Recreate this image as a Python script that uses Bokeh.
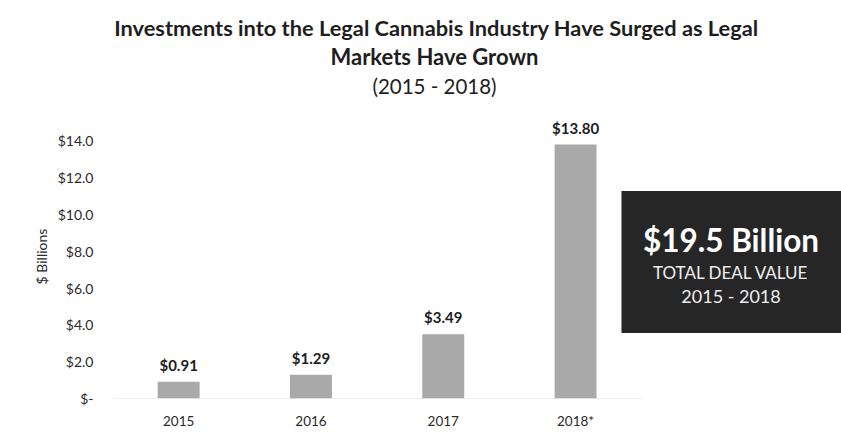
from bokeh.plotting import figure
from bokeh.layouts import column
from bokeh.models import (ColumnDataSource, LabelSet, Label, BoxAnnotation,
                          FixedTicker, PrintfTickFormatter, Range1d)
from bokeh.core.properties import value
from bokeh.embed import file_html
from bokeh.resources import INLINE

years = ["2015", "2016", "2017", "2018*"]
values = [0.91, 1.29, 3.49, 13.80]
value_labels = ["$0.91", "$1.29", "$3.49", "$13.80"]
y_ticks = [0, 2, 4, 6, 8, 10, 12, 14]
title_lines = ["Investments into the Legal Cannabis Industry Have Surged as Legal",
               "Markets Have Grown", "(2015 - 2018)"]
box_lines = ["$19.5 Billion", "TOTAL DEAL VALUE", "2015 - 2018"]

FONT = "Lato"
TXT = "#1e1e1e"

# ---------- title block (page pixel coordinates) ----------
t = figure(frame_width=729, frame_height=114, output_backend="svg", toolbar_location=None,
           x_range=Range1d(112, 841), y_range=Range1d(114, 0),
           x_axis_location=None, y_axis_location=None,
           min_border_left=112, min_border_right=0, min_border_top=0, min_border_bottom=0)
t.outline_line_color = None
t.grid.visible = False
t.add_layout(Label(x=436, y=27, text=title_lines[0], text_align="center", text_baseline="alphabetic",
                   text_font=FONT, text_font_style="bold", text_font_size="21.8px", text_color=TXT))
t.add_layout(Label(x=434, y=56, text=title_lines[1], text_align="center", text_baseline="alphabetic",
                   text_font=FONT, text_font_style="bold", text_font_size="22px", text_color=TXT))
t.add_layout(Label(x=434, y=85, text=title_lines[2], text_align="center", text_baseline="alphabetic",
                   text_font=FONT, text_font_style="normal", text_font_size="20.5px", text_color=TXT))

# ---------- chart ----------
xs = list(range(len(years)))
src = ColumnDataSource(dict(x=xs, top=values, lab=value_labels))

p = figure(frame_width=729, frame_height=284, output_backend="svg", toolbar_location=None,
           x_range=Range1d(-0.5, 5.01), y_range=Range1d(0, 15.43),
           min_border_left=112, min_border_right=0, min_border_bottom=37, min_border_top=0)
p.outline_line_color = None
p.grid.visible = False
p.background_fill_color = "white"

p.vbar(x="x", top="top", width=0.317, source=src, fill_color="#a9a9a9", line_color=None)
p.segment(x0=[-0.5], x1=[len(years) - 0.5], y0=[0], y1=[0], line_color="#bdbdbd",
          line_width=1, line_dash="1 1")

p.add_layout(LabelSet(x="x", y="top", text="lab", source=src, y_offset=17,
                      text_align="center", text_baseline="middle",
                      text_font=value(FONT), text_font_style="bold", text_font_size="15px",
                      text_color=TXT))

# x axis
p.xaxis.ticker = FixedTicker(ticks=xs)
p.xaxis.major_label_overrides = {i: y for i, y in enumerate(years)}
p.xaxis.axis_line_color = None
p.xaxis.major_tick_line_color = None
p.xaxis.minor_tick_line_color = None
p.xaxis.major_label_text_font = FONT
p.xaxis.major_label_text_font_size = "13.5px"
p.xaxis.major_label_text_color = "#2a2a2a"
p.xaxis.major_label_standoff = 8

# y axis
p.yaxis.ticker = FixedTicker(ticks=y_ticks)
p.yaxis.formatter = PrintfTickFormatter(format="$%.1f")
p.yaxis.major_label_overrides = {0: "$-"}
p.yaxis.axis_line_color = None
p.yaxis.major_tick_line_color = None
p.yaxis.minor_tick_line_color = None
p.yaxis.major_label_text_font = FONT
p.yaxis.major_label_text_font_size = "14px"
p.yaxis.major_label_text_color = "#2a2a2a"
p.yaxis.major_label_standoff = 13
p.yaxis.axis_label = "$ Billions"
p.yaxis.axis_label_text_font = FONT
p.yaxis.axis_label_text_font_style = "normal"
p.yaxis.axis_label_text_font_size = "14px"
p.yaxis.axis_label_text_color = "#2a2a2a"
p.yaxis.axis_label_standoff = 5

# summary box
bx = 4.175
p.add_layout(BoxAnnotation(left=3.347, right=5.01, bottom=3.56, top=11.27,
                           fill_color="#262626", fill_alpha=1, line_color=None))
p.add_layout(Label(x=bx, y=8.61, text=box_lines[0], text_align="center", text_baseline="alphabetic",
                   text_font=FONT, text_font_style="bold", text_font_size="31.5px", text_color="white"))
p.add_layout(Label(x=bx, y=6.85, text=box_lines[1], text_align="center", text_baseline="alphabetic",
                   text_font=FONT, text_font_style="normal", text_font_size="17px", text_color="#eeeeee"))
p.add_layout(Label(x=bx, y=5.57, text=box_lines[2], text_align="center", text_baseline="alphabetic",
                   text_font=FONT, text_font_style="normal", text_font_size="18px", text_color="#eeeeee"))

layout = column(t, p, spacing=0)
open("out.html", "w").write(file_html(layout, INLINE))
